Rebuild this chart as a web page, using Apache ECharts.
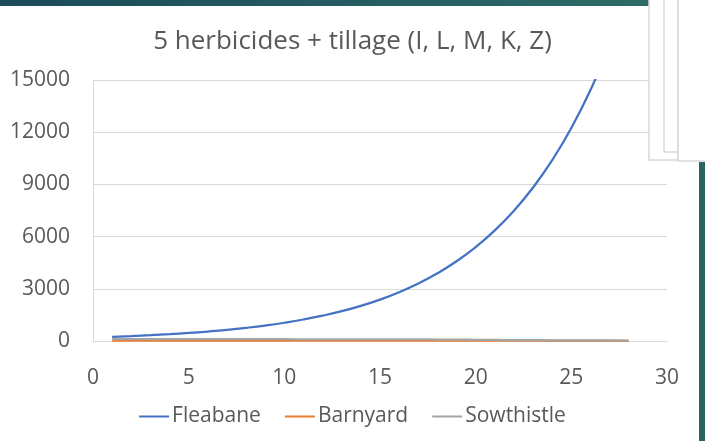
<!DOCTYPE html>
<html>
<head>
<meta charset="utf-8">
<script src="https://cdn.jsdelivr.net/npm/echarts@6/dist/echarts.min.js"></script>
<style>
  html, body { margin: 0; padding: 0; background: #fff; }
  #main { width: 705px; height: 441px; }
</style>
</head>
<body>
<div id="main"></div>
<script>
const days = [1, 2, 3, 4, 5, 6, 7, 8, 9, 10, 11, 12, 13, 14, 15, 16, 17, 18, 19, 20, 21, 22, 23, 24, 25, 26, 27, 28];
const fleabane = [240, 283, 333, 392, 462, 545, 641, 756, 890, 1049, 1235, 1455, 1714, 2019, 2379, 2802, 3301, 3889, 4581, 5396, 6357, 7489, 8822, 10392, 12242, 14422, 16989, 20013];
const barnyard = [20, 22, 24, 25, 26, 27, 27, 28, 28, 27, 27, 26, 25, 24, 23, 22, 21, 20, 19, 18, 17, 16, 15, 14, 13, 12, 11, 10];
const sowthistle = [110, 109, 108, 107, 106, 105, 104, 103, 102, 101, 100, 99, 98, 97, 96, 94, 90, 84, 76, 68, 60, 54, 48, 43, 38, 34, 30, 28];
const xTicks = { min: 0, max: 30, step: 5 };
const yTicks = { min: 0, max: 15000, step: 3000 };

const pairs = (vals) => days.map((d, i) => [d, vals[i]]);
const txt = '#595959';
const font = 'Open Sans';

var myChart = echarts.init(document.getElementById('main'));
myChart.setOption({
  animation: false,
  title: {
    text: '5 herbicides + tillage (I, L, M, K, Z)',
    left: 'center',
    top: 24,
    textStyle: { fontFamily: font, fontSize: 26, fontWeight: 'normal', color: txt }
  },
  legend: {
    bottom: 9,
    left: 'center',
    itemWidth: 30,
    itemHeight: 2,
    itemGap: 24,
    icon: 'rect',
    textStyle: { fontFamily: font, fontSize: 21, color: txt, padding: [0, 0, 0, -2] },
    data: ['Fleabane', 'Barnyard', 'Sowthistle']
  },
  grid: { left: 93, right: 38, top: 80, bottom: 100 },
  xAxis: {
    type: 'value',
    min: xTicks.min, max: xTicks.max, interval: xTicks.step,
    axisLine: { show: true, lineStyle: { color: '#d9d9d9', width: 1 } },
    axisTick: { show: false },
    splitLine: { show: false },
    axisLabel: { fontFamily: font, fontSize: 21, color: txt, margin: 27 }
  },
  yAxis: {
    type: 'value',
    min: yTicks.min, max: yTicks.max, interval: yTicks.step,
    axisLine: { show: true, lineStyle: { color: '#d9d9d9', width: 1 } },
    axisTick: { show: false },
    splitLine: { lineStyle: { color: '#d9d9d9', width: 1 } },
    axisLabel: { fontFamily: font, fontSize: 21, color: txt, margin: 23, formatter: (v) => String(v) }
  },
  series: [
    { name: 'Fleabane', type: 'line', data: pairs(fleabane), smooth: true, showSymbol: false,
      lineStyle: { color: '#4472c4', width: 2.25 }, itemStyle: { color: '#4472c4' } },
    { name: 'Barnyard', type: 'line', data: pairs(barnyard), smooth: true, showSymbol: false,
      lineStyle: { color: '#ed7d31', width: 2.25 }, itemStyle: { color: '#ed7d31' } },
    { name: 'Sowthistle', type: 'line', data: pairs(sowthistle), smooth: true, showSymbol: false,
      lineStyle: { color: '#a5a5a5', width: 2.25 }, itemStyle: { color: '#a5a5a5' } }
  ],
  graphic: [
    // dark band at the top of the slide
    { type: 'rect', z: 100, shape: { x: 0, y: 0, width: 649, height: 6 },
      style: { fill: new echarts.graphic.LinearGradient(0, 0, 1, 0, [
        { offset: 0, color: '#1b4a5a' }, { offset: 1, color: '#2d6b67' }]) } },
    // stacked white boxes on the top right
    { type: 'rect', z: 101, shape: { x: 649, y: -2, width: 29, height: 162 },
      style: { fill: '#fff', stroke: '#d9d9d9', lineWidth: 1.5 } },
    { type: 'rect', z: 102, shape: { x: 664, y: -2, width: 14, height: 154 },
      style: { fill: '#fff', stroke: '#d9d9d9', lineWidth: 1.5 } },
    { type: 'rect', z: 103, shape: { x: 678, y: -2, width: 30, height: 163 },
      style: { fill: '#fff', stroke: '#d9d9d9', lineWidth: 1.5 } },
    // teal strip on the right edge
    { type: 'rect', z: 100, shape: { x: 699, y: 162, width: 6, height: 279 },
      style: { fill: '#2b6461' } }
  ]
});
</script>
</body>
</html>
